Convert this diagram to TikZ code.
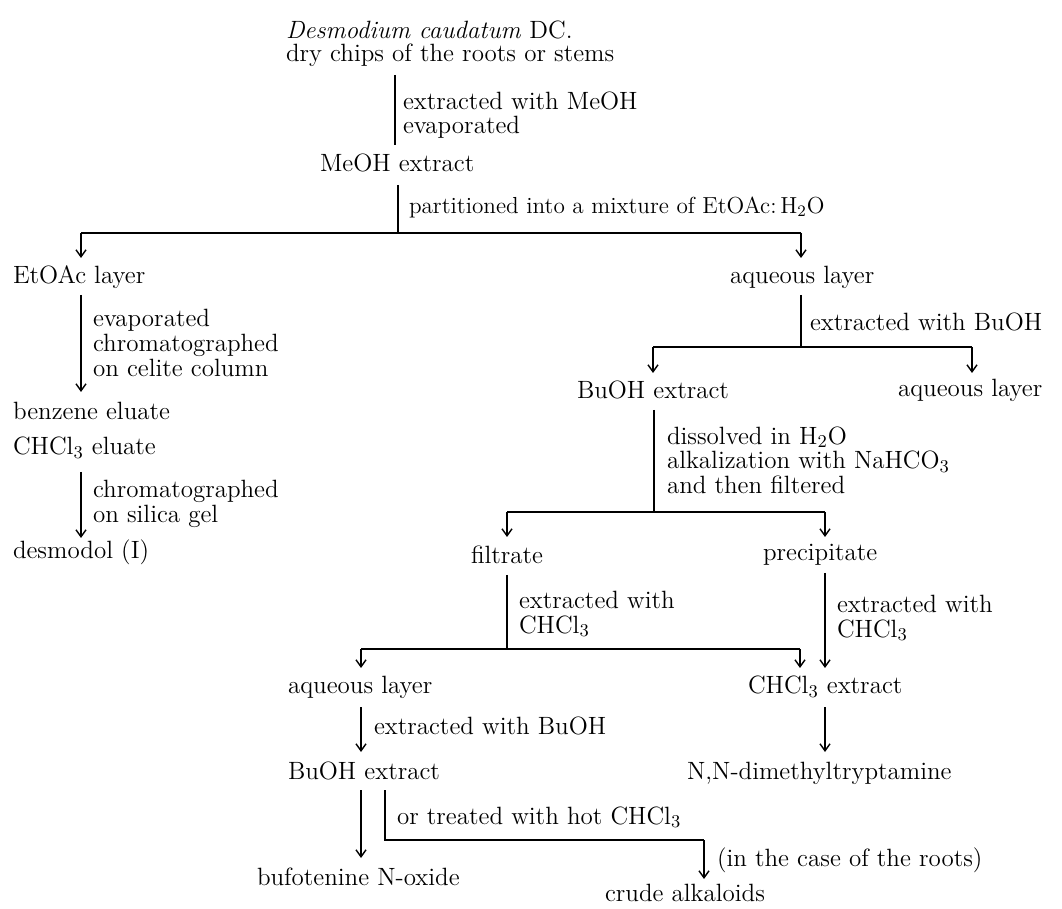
\documentclass[tikz,border=0pt]{standalone}
\usetikzlibrary{arrows.meta}
\begin{document}
\begin{tikzpicture}[x=0.5pt,y=-0.5pt,
  every node/.style={inner sep=0pt,outer sep=0pt},
  txt/.style={anchor=west,align=left,font=\fontsize{12.5}{12.3}\selectfont},
  ln/.style={line width=0.7pt},
  arr/.style={ln,-{Straight Barb[length=3.5pt,width=5pt,line width=0.7pt]}}]
\useasboundingbox (0,0) rectangle (1062,909);
% ---------- texts
\node[txt] (src)  at (286,30)  {\textit{Desmodium caudatum} DC.};
\node[txt] (chips) at (286,55) {dry chips of the roots or stems};
\node[txt] (l1)   at (403,115) {extracted with MeOH\\evaporated};
\node[txt] (meoh) at (320,163) {MeOH extract};
\node[txt,font=\fontsize{11.6}{12.3}\selectfont] (l2) at (409,207) {partitioned into a mixture of EtOAc:\,H$_2$O};
\node[txt] (etoac) at (13,277) {EtOAc layer};
\node[txt] (aqA)  at (730,277) {aqueous layer};
\node[txt] (l3)   at (93,343)  {evaporated\\chromatographed\\on celite column};
\node[txt] (benz) at (13,411)  {benzene eluate};
\node[txt] (chel) at (13,448)  {CHCl$_3$ eluate};
\node[txt] (l4)   at (93,504)  {chromatographed\\on silica gel};
\node[txt] (desm) at (13,552)  {desmodol (I)};
\node[txt] (l5)   at (810,322) {extracted with BuOH};
\node[txt] (buA)  at (577,390) {BuOH extract};
\node[txt] (aqB)  at (898,390) {aqueous layer};
\node[txt] (l6)   at (667,460) {dissolved in H$_2$O\\alkalization with NaHCO$_3$\\and then filtered};
\node[txt] (filt) at (471,555) {filtrate};
\node[txt] (prec) at (763,555) {precipitate};
\node[txt] (l7)   at (519,614) {extracted with\\CHCl$_3$};
\node[txt] (l8)   at (837,618) {extracted with\\CHCl$_3$};
\node[txt] (aqC)  at (288,687) {aqueous layer};
\node[txt] (chex) at (748,687) {CHCl$_3$ extract};
\node[txt] (l9)   at (374,726) {extracted with BuOH};
\node[txt] (buB)  at (288,771) {BuOH extract};
\node[txt] (dmt)  at (687,773) {N,N-dimethyltryptamine};
\node[txt] (l10)  at (397,817) {or treated with hot CHCl$_3$};
\node[txt] (bufo) at (257,877) {bufotenine N-oxide};
\node[txt] (l11)  at (717,860) {(in the case of the roots)};
\node[txt] (crude) at (605,893) {crude alkaloids};
% ---------- connector points
\coordinate (a1) at (395,75);  \coordinate (a2) at (395,145);
\coordinate (b1) at (398,185); \coordinate (b2) at (398,233);
\coordinate (bL) at (81,233);  \coordinate (bR) at (801,233);
\coordinate (bLt) at (81,258); \coordinate (bRt) at (801,258);
\coordinate (c1) at (81,295);  \coordinate (c2) at (81,392);
\coordinate (d1) at (81,472);  \coordinate (d2) at (81,538);
\coordinate (e1) at (801,295); \coordinate (e2) at (801,347);
\coordinate (eL) at (653,347); \coordinate (eR) at (972,347);
\coordinate (eLt) at (653,373); \coordinate (eRt) at (972,373);
\coordinate (f1) at (654,410); \coordinate (f2) at (654,512);
\coordinate (fL) at (507,512); \coordinate (fR) at (825,512);
\coordinate (fLt) at (507,537); \coordinate (fRt) at (825,537);
\coordinate (g1) at (507,575); \coordinate (g2) at (507,649);
\coordinate (gL) at (361,649); \coordinate (gR) at (800,649);
\coordinate (gLt) at (361,668); \coordinate (gRt) at (800,668);
\coordinate (h1) at (825,573); \coordinate (h2) at (825,668);
\coordinate (i1) at (361,707); \coordinate (i2) at (361,752);
\coordinate (j1) at (825,707); \coordinate (j2) at (825,752);
\coordinate (k1) at (361,790); \coordinate (k2) at (361,858);
\coordinate (m1) at (385,790); \coordinate (m2) at (385,840);
\coordinate (m3) at (704,840); \coordinate (m4) at (704,879);
% ---------- connectors
\draw[ln] (a1) -- (a2);
\draw[ln] (b1) -- (b2);
\draw[ln] (bL) -- (bR);
\draw[arr] (bL) -- (bLt);
\draw[arr] (bR) -- (bRt);
\draw[arr] (c1) -- (c2);
\draw[arr] (d1) -- (d2);
\draw[ln] (e1) -- (e2);
\draw[ln] (eL) -- (eR);
\draw[arr] (eL) -- (eLt);
\draw[arr] (eR) -- (eRt);
\draw[ln] (f1) -- (f2);
\draw[ln] (fL) -- (fR);
\draw[arr] (fL) -- (fLt);
\draw[arr] (fR) -- (fRt);
\draw[ln] (g1) -- (g2);
\draw[ln] (gL) -- (gR);
\draw[arr] (gL) -- (gLt);
\draw[arr] (gR) -- (gRt);
\draw[arr] (h1) -- (h2);
\draw[arr] (i1) -- (i2);
\draw[arr] (j1) -- (j2);
\draw[arr] (k1) -- (k2);
\draw[ln] (m1) -- (m2) -- (m3);
\draw[arr] (m3) -- (m4);
\end{tikzpicture}
\end{document}
